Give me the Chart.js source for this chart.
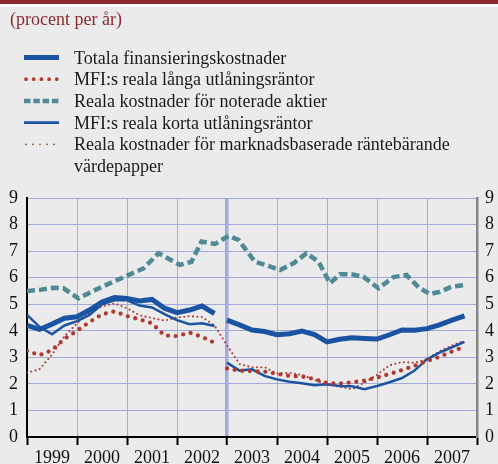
<!DOCTYPE html>
<html>
<head>
<meta charset="utf-8">
<script src="https://cdn.jsdelivr.net/npm/chart.js@4.4.1/dist/chart.umd.min.js"></script>
<style>
  html, body { margin: 0; padding: 0; background: #ebebeb; }
  #wrap { width: 498px; height: 464px; position: relative; }
</style>
</head>
<body>
<div id="wrap"><canvas id="graf" width="498" height="464"></canvas></div>
<script>
// kvartal 1999K1 .. 2007K4
const quarterTimes = Array.from({ length: 36 }, (_, i) => 1999 + i / 4);
const yearTicks = [1999, 2000, 2001, 2002, 2003, 2004, 2005, 2006, 2007, 2008];
const yTicks = [0, 1, 2, 3, 4, 5, 6, 7, 8, 9];

const totala = [4.20, 4.05, 4.25, 4.47, 4.53, 4.78, 5.08, 5.25, 5.22, 5.12, 5.18, 4.85, 4.68, 4.78, 4.93, 4.65,
    4.40, 4.22, 4.03, 3.97, 3.85, 3.89, 3.99, 3.86, 3.58, 3.68, 3.74, 3.71, 3.69, 3.85, 4.03, 4.02, 4.08, 4.22, 4.40, 4.56];
const mfiLanga = [3.25, 3.08, 3.27, 3.70, 4.00, 4.33, 4.62, 4.73, 4.55, 4.43, 4.28, 3.82, 3.80, 3.93, 3.77, 3.55,
    2.58, 2.50, 2.48, 2.46, 2.38, 2.30, 2.28, 2.18, 2.03, 2.01, 2.06, 2.12, 2.24, 2.37, 2.52, 2.68, 2.86, 3.02, 3.22, 3.40];
const mfiKorta = [4.60, 4.15, 3.87, 4.20, 4.36, 4.60, 5.00, 5.15, 5.15, 4.95, 4.88, 4.63, 4.40, 4.25, 4.28, 4.18,
    2.80, 2.50, 2.55, 2.30, 2.17, 2.08, 2.02, 1.95, 1.99, 1.92, 1.91, 1.80, 1.92, 2.06, 2.22, 2.50, 2.93, 3.18, 3.38, 3.58];
const marknad = [2.42, 2.55, 3.10, 3.80, 4.28, 4.67, 4.92, 5.03, 4.85, 4.58, 4.48, 4.38, 4.50, 4.55, 4.52, 4.20,
    3.45, 2.75, 2.62, 2.63, 2.39, 2.42, 2.33, 2.16, 1.97, 1.90, 1.80, 2.05, 2.34, 2.70, 2.82, 2.79, 2.93, 3.23, 3.45, 3.63];
const aktieTimes = [1999.0, 1999.26, 1999.53, 1999.73, 2000.03, 2000.29, 2000.73, 2001.03, 2001.33, 2001.63, 2002.06,
    2002.29, 2002.49, 2002.76, 2003.03, 2003.23, 2003.56, 2003.83, 2004.06, 2004.33, 2004.59, 2004.83, 2005.06,
    2005.26, 2005.49, 2005.73, 2006.03, 2006.33, 2006.59, 2006.83, 2007.06, 2007.26, 2007.49, 2007.73];
const aktier = [5.50, 5.54, 5.62, 5.60, 5.22, 5.47, 5.85, 6.10, 6.35, 6.92, 6.48, 6.60, 7.36, 7.27, 7.57, 7.42, 6.60,
    6.44, 6.29, 6.54, 6.92, 6.60, 5.79, 6.13, 6.13, 6.03, 5.60, 6.02, 6.10, 5.64, 5.38, 5.47, 5.66, 5.72];

const BLUE = '#1b53a3';
const RED = '#b13a30';
const TEAL = '#4e8b97';
const GRID = '#a3abde';
const FONT = '"Liberation Serif", "Times New Roman", serif';

function pts(times, vals) {
    return vals.map((v, i) => ({ x: times[i], y: v }));
}
// brott i serien mellan 2002 och 2003
const breakSeg = {
    borderColor: c => (c.p0.parsed.x < 2003 && c.p1.parsed.x >= 2003) ? 'rgba(0,0,0,0)' : undefined
};

const legendItems = [
    { text: 'Totala finansieringskostnader', color: BLUE, width: 5, dash: [], cap: 'butt' },
    { text: 'MFI:s reala långa utlåningsräntor', color: RED, width: 3.8, dash: [0, 7.7], cap: 'round' },
    { text: 'Reala kostnader för noterade aktier', color: TEAL, width: 4.5, dash: [6.5, 2.8], cap: 'butt' },
    { text: 'MFI:s reala korta utlåningsräntor', color: BLUE, width: 2.6, dash: [], cap: 'butt' },
    { text: ['Reala kostnader för marknadsbaserade räntebärande', 'värdepapper'], color: RED, width: 1.8, dash: [0, 7], cap: 'round' }
];

const decor = {
    id: 'decor',
    beforeDraw(chart) {
        const ctx = chart.ctx;
        ctx.save();
        ctx.fillStyle = '#ebebeb';
        ctx.fillRect(0, 0, chart.width, chart.height);
        ctx.fillStyle = '#8a2a2f';
        ctx.fillRect(0, 0, chart.width, 4);
        ctx.fillStyle = '#ffffff';
        ctx.fillRect(0, 4, chart.width, 2.5);
        ctx.font = '18px ' + FONT;
        ctx.fillStyle = '#8a2a2f';
        ctx.textBaseline = 'alphabetic';
        ctx.fillText('(procent per år)', 10, 25);

        let y = 57.5;
        legendItems.forEach(it => {
            ctx.strokeStyle = it.color;
            ctx.lineWidth = it.width;
            ctx.setLineDash(it.dash);
            ctx.lineCap = it.cap;
            ctx.beginPath();
            ctx.moveTo(it.cap === 'round' ? 26 : 24, y);
            ctx.lineTo(59, y);
            ctx.stroke();
            ctx.setLineDash([]);
            ctx.fillStyle = '#1a1a1a';
            const lines = Array.isArray(it.text) ? it.text : [it.text];
            lines.forEach((t, k) => ctx.fillText(t, 74, y + 6 + k * 21.7));
            y += 21.7;
        });
        ctx.restore();
    }
};

const ctx = document.getElementById('graf').getContext('2d');
const chart = new Chart(ctx, {
    type: 'line',
    data: {
        datasets: [
            { label: 'Totala finansieringskostnader', data: pts(quarterTimes, totala), borderColor: BLUE, borderWidth: 5, segment: breakSeg },
            { label: 'MFI:s reala långa utlåningsräntor', data: pts(quarterTimes, mfiLanga), borderColor: RED, borderWidth: 4.3, borderDash: [0, 7.7], borderCapStyle: 'round', segment: breakSeg },
            { label: 'Reala kostnader för noterade aktier', data: pts(aktieTimes, aktier), borderColor: TEAL, borderWidth: 4.5, borderDash: [8, 4] },
            { label: 'MFI:s reala korta utlåningsräntor', data: pts(quarterTimes, mfiKorta), borderColor: BLUE, borderWidth: 2.5, segment: breakSeg },
            { label: 'Reala kostnader för marknadsbaserade räntebärande värdepapper', data: pts(quarterTimes, marknad), borderColor: RED, borderWidth: 2.1, borderDash: [0, 4.4], borderCapStyle: 'round' }
        ]
    },
    options: {
        responsive: false,
        animation: false,
        layout: { padding: { top: 198, left: 0, right: 0, bottom: 0 } },
        elements: { point: { radius: 0 }, line: { tension: 0, fill: false } },
        plugins: { legend: { display: false }, tooltip: { enabled: false } },
        scales: {
            x: {
                type: 'linear', min: 1999, max: 2008,
                afterBuildTicks: s => { s.ticks = yearTicks.map(v => ({ value: v })); },
                afterFit: s => { s.height = 27; },
                grid: {
                    color: GRID,
                    lineWidth: c => (c.tick && c.tick.value === 2003) ? 3.5 : 1,
                    tickColor: '#000', tickLength: 8, tickWidth: 2
                },
                border: { color: '#000', width: 2 },
                ticks: {
                    autoSkip: false, maxRotation: 0, labelOffset: 25, padding: 2,
                    color: '#111', font: { family: FONT, size: 18 },
                    callback: v => v < 2008 ? String(v) : ''
                }
            },
            y: {
                position: 'left', min: 0, max: 9,
                afterBuildTicks: s => { s.ticks = yTicks.map(v => ({ value: v })); },
                afterFit: s => { s.width = 27; },
                grid: { color: GRID, lineWidth: 1, drawTicks: false },
                border: { color: '#000', width: 2 },
                ticks: { padding: 9, color: '#111', font: { family: FONT, size: 18 } }
            },
            y2: {
                position: 'right', min: 0, max: 9,
                afterBuildTicks: s => { s.ticks = yTicks.map(v => ({ value: v })); },
                afterFit: s => { s.width = 21; },
                grid: { display: false, drawTicks: false },
                border: { color: '#858585', width: 2.5 },
                ticks: { padding: 8, color: '#111', font: { family: FONT, size: 18 } }
            }
        }
    },
    plugins: [decor]
});
</script>
</body>
</html>
